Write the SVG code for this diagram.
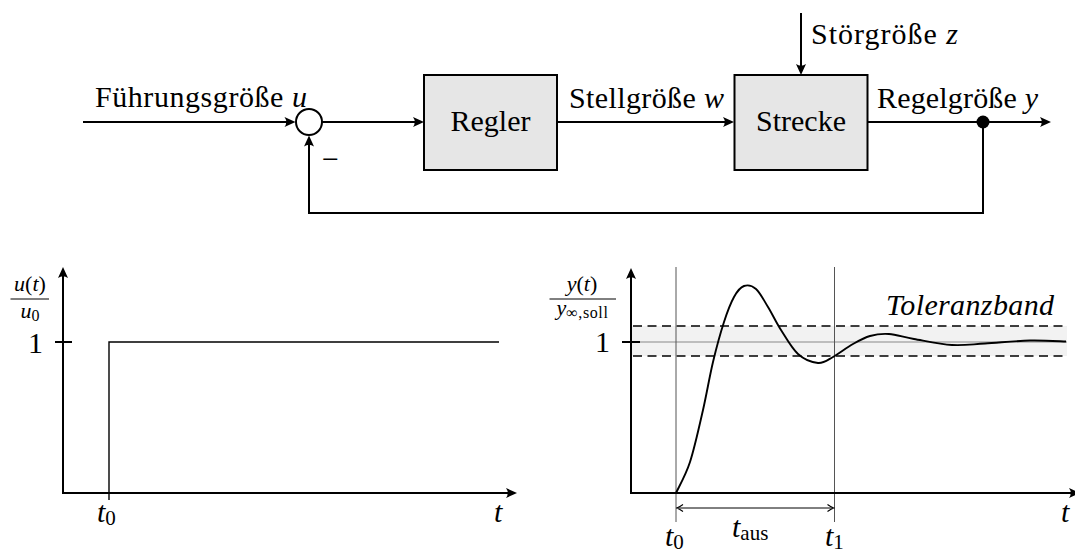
<svg xmlns="http://www.w3.org/2000/svg" width="1075" height="553" viewBox="0 0 1075 553">
<style>
.ln{stroke:#000;stroke-width:2;fill:none}
.thin{stroke:#000;stroke-width:1.4;fill:none}
.grid{stroke:#555;stroke-width:1;fill:none}
.box{fill:#e6e6e6;stroke:#000;stroke-width:2}
.t{font-family:"Liberation Serif","DejaVu Serif",serif;font-size:30px;fill:#000}
.s{font-family:"Liberation Serif","DejaVu Serif",serif;font-size:22px;fill:#000}
.i{font-style:italic}
.sub{font-size:21px;font-style:normal}
.ssub{font-size:16px;font-style:normal}
</style>
<defs>
<marker id="arr" viewBox="-9 -6 13 12" refX="0" refY="0" markerWidth="13" markerHeight="12" markerUnits="userSpaceOnUse" orient="auto">
<path d="M3,0 L-8,-5 Q-4.5,0 -8,5 Z" fill="#000"/>
</marker>
<marker id="harr" viewBox="-7 -5 9 10" refX="0" refY="0" markerWidth="9" markerHeight="10" markerUnits="userSpaceOnUse" orient="auto-start-reverse">
<path d="M-5.5,-3.5 Q-1.5,-0.6 0.8,0 Q-1.5,0.6 -5.5,3.5" fill="none" stroke="#000" stroke-width="1.1"/>
</marker>
</defs>

<!-- block diagram -->
<g id="connectors">
<path class="ln" d="M83,122 L292.5,122" marker-end="url(#arr)"/>
<path class="ln" d="M322,122 L421,122" marker-end="url(#arr)"/>
<path class="ln" d="M557,122 L731,122" marker-end="url(#arr)"/>
<path class="ln" d="M867.5,122 L1048,122" marker-end="url(#arr)"/>
<path class="ln" d="M801,13 L801,72" marker-end="url(#arr)"/>
<path class="ln" d="M983,122 L983,213 L309,213 L309,138.5" marker-end="url(#arr)"/>
</g>
<g id="sum">
<circle cx="309" cy="122" r="13" fill="#fff" stroke="#000" stroke-width="2"/>
<text class="t" x="330.5" y="169" text-anchor="middle">−</text>
</g>
<g id="regler">
<rect class="box" x="424" y="75" width="133" height="95"/>
<text class="t" x="490.5" y="131" text-anchor="middle">Regler</text>
</g>
<g id="strecke">
<rect class="box" x="734.5" y="75" width="133" height="95"/>
<text class="t" x="801" y="131" text-anchor="middle">Strecke</text>
</g>
<g id="branch">
<circle cx="983" cy="122" r="6.5" fill="#000"/>
</g>
<g id="labels">
<text class="t" x="95" y="107" textLength="212">Führungsgröße <tspan class="i">u</tspan></text>
<text class="t" x="569" y="108" textLength="155">Stellgröße <tspan class="i">w</tspan></text>
<text class="t" x="811" y="44" textLength="147">Störgröße <tspan class="i">z</tspan></text>
<text class="t" x="877" y="108" textLength="161">Regelgröße <tspan class="i">y</tspan></text>
</g>

<!-- left plot -->
<g id="plot-u">
<path class="ln" d="M63,493 L63,270" marker-end="url(#arr)"/>
<path class="ln" d="M62,493 L514,493" marker-end="url(#arr)"/>
<path class="ln" d="M55,342 L72,342"/>
<path class="thin" d="M109,500 L109,342 L499,342"/>
<text class="t" x="43" y="353" text-anchor="end">1</text>
<text class="s" x="30" y="291" text-anchor="middle"><tspan class="i">u</tspan>(<tspan class="i">t</tspan>)</text>
<path d="M10.5,299 L49,299" stroke="#000" stroke-width="1"/>
<text class="s" x="30" y="318" text-anchor="middle"><tspan class="i">u</tspan><tspan class="ssub" dy="3">0</tspan></text>
<text class="t i" x="97" y="522">t<tspan class="sub" dy="3">0</tspan></text>
<text class="t i" x="494" y="522">t</text>
</g>

<!-- right plot -->
<g id="plot-y">
<rect x="631" y="326" width="436" height="30" fill="#f2f2f2"/>
<path d="M631,342 L1067,342" stroke="#888" stroke-width="1"/>
<path class="thin" d="M633,326 L1067,326 M633,356 L1067,356" stroke-dasharray="9 5.5"/>
<path class="grid" d="M676,267 L676,522 M834.5,267 L834.5,522"/>
<path class="ln" d="M631,493 L631,271" marker-end="url(#arr)"/>
<path class="ln" d="M630,493 L1077,493" marker-end="url(#arr)"/>
<path class="ln" d="M622,342 L640,342"/>
<path d="M676,493 C678.3,487.8 685.5,475.8 690,462 C694.5,448.2 699.2,426.7 703,410 C706.8,393.3 709.5,376.7 713,362 C716.5,347.3 720.5,332.8 724,322 C727.5,311.2 730.7,303 734,297 C737.3,291 740.3,287.3 744,286 C747.7,284.7 752,285.5 756,289 C760,292.5 763.8,300.2 768,307 C772.2,313.8 776,322.2 781,330 C786,337.8 791.8,348.5 798,354 C804.2,359.5 812.2,362.5 818,363 C823.8,363.5 827.2,360.2 833,357 C838.8,353.8 846.8,347.5 853,344 C859.2,340.5 864,337.7 870,336 C876,334.3 881.7,333.5 889,334 C896.3,334.5 903.5,337.2 914,339 C924.5,340.8 940.2,344.25 952,345 C963.8,345.75 972,344.25 985,343.5 C998,342.75 1016.5,340.8 1030,340.5 C1043.5,340.2 1060,341.3 1066,341.5" fill="none" stroke="#000" stroke-width="1.9"/>
<path d="M677.5,508 L833,508" stroke="#000" stroke-width="1" marker-start="url(#harr)" marker-end="url(#harr)"/>
<text class="t" x="610" y="352" text-anchor="end">1</text>
<text class="s" x="582" y="291" text-anchor="middle"><tspan class="i">y</tspan>(<tspan class="i">t</tspan>)</text>
<path d="M549.5,299 L616,299" stroke="#000" stroke-width="1"/>
<text class="s" x="582.5" y="315" text-anchor="middle"><tspan class="i">y</tspan><tspan class="ssub" dy="3" letter-spacing="0.6">∞,soll</tspan></text>
<text class="t i" x="886" y="315" textLength="168">Toleranzband</text>
<text class="t i" x="732" y="537">t<tspan class="sub" dy="3">aus</tspan></text>
<text class="t i" x="665" y="546">t<tspan class="sub" dy="3">0</tspan></text>
<text class="t i" x="825" y="546">t<tspan class="sub" dy="3">1</tspan></text>
<text class="t i" x="1061" y="522">t</text>
</g>
</svg>
